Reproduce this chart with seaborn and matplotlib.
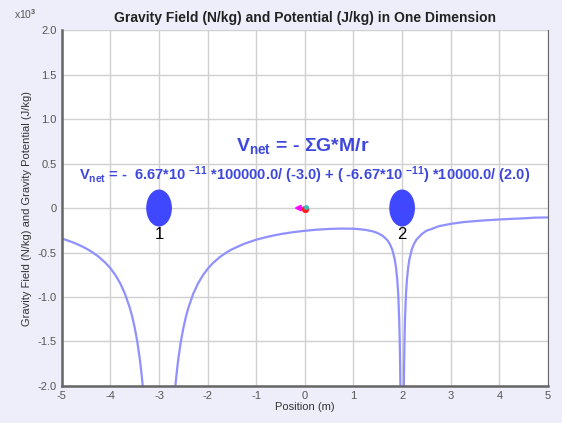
import numpy as np
import pandas as pd
import seaborn as sns
import matplotlib.pyplot as plt
from matplotlib.patches import Ellipse

# potential curve (x10^3), three pieces split by the two masses
x_left = [-5.0, -4.9, -4.75, -4.6, -4.5, -4.4, -4.25, -4.1, -4.0, -3.9, -3.8, -3.7,
          -3.6, -3.55, -3.5, -3.45, -3.4, -3.375, -3.35, -3.33]
v_left = [-0.343, -0.361, -0.391, -0.427, -0.455, -0.487, -0.544, -0.617, -0.678, -0.752,
          -0.845, -0.965, -1.124, -1.225, -1.346, -1.494, -1.680, -1.791, -1.918, -2.03]
x_mid = [-2.67, -2.65, -2.625, -2.6, -2.55, -2.5, -2.45, -2.4, -2.3, -2.2, -2.1, -2.0,
         -1.9, -1.75, -1.6, -1.5, -1.25, -1.0, -0.75, -0.5, -0.25, 0.0, 0.25, 0.5,
         0.75, 1.0, 1.1, 1.25, 1.4, 1.5, 1.6, 1.7, 1.75, 1.8, 1.85, 1.875, 1.9, 1.92,
         1.94, 1.95, 1.96, 1.965]
v_mid = [-2.035, -1.92, -1.793, -1.682, -1.497, -1.349, -1.228, -1.127, -0.968, -0.850,
         -0.757, -0.684, -0.623, -0.551, -0.495, -0.464, -0.402, -0.356, -0.321, -0.293,
         -0.272, -0.256, -0.243, -0.235, -0.231, -0.233, -0.237, -0.246, -0.263, -0.282,
         -0.312, -0.364, -0.407, -0.472, -0.582, -0.670, -0.803, -0.969, -1.247, -1.469,
         -1.80, -2.04]
x_right = [2.035, 2.04, 2.05, 2.06, 2.08, 2.1, 2.125, 2.15, 2.2, 2.25, 2.3, 2.4, 2.5,
           2.6, 2.75, 3.0, 3.25, 3.5, 3.75, 4.0, 4.25, 4.5, 4.75, 5.0]
v_right = [-2.04, -1.80, -1.467, -1.244, -0.966, -0.799, -0.665, -0.576, -0.464, -0.397,
           -0.352, -0.295, -0.255, -0.237, -0.205, -0.178, -0.159, -0.147, -0.137, -0.129,
           -0.122, -0.116, -0.108, -0.106]

mass_x = [-3.0, 2.0]
mass_labels = ['1', '2']
x_ticks = [-5, -4, -3, -2, -1, 0, 1, 2, 3, 4, 5]
y_ticks = [-2.0, -1.5, -1.0, -0.5, 0, 0.5, 1.0, 1.5, 2.0]
y_labels = ['-2.0', '-1.5', '-1.0', '-0.5', '0', '0.5', '1.0', '1.5', '2.0']

df = pd.concat([
    pd.DataFrame({'x': x_left, 'v': v_left, 'seg': 'a'}),
    pd.DataFrame({'x': x_mid, 'v': v_mid, 'seg': 'b'}),
    pd.DataFrame({'x': x_right, 'v': v_right, 'seg': 'c'}),
])

sns.set_style('whitegrid')
plt.rcParams['font.family'] = ['Liberation Sans', 'DejaVu Sans']
plt.rcParams['axes.unicode_minus'] = False
plt.rcParams['mathtext.fontset'] = 'custom'
plt.rcParams['mathtext.rm'] = 'Liberation Sans:bold'
plt.rcParams['mathtext.bf'] = 'Liberation Sans:bold'
plt.rcParams['mathtext.it'] = 'Liberation Sans:bold'

bg = '#eeeefa'
fig = plt.figure(figsize=(5.62, 4.23), dpi=100, facecolor=bg)
ax = fig.add_axes([0.110, 0.0875, 0.865, 0.8415])
ax.set_facecolor('white')

for seg, d in df.groupby('seg'):
    sns.lineplot(data=d, x='x', y='v', ax=ax, color='#9090ff', linewidth=1.6,
                 sort=False, legend=False)

ax.set_xlim(-5, 5)
ax.set_ylim(-2.0, 2.0)
ax.set_xticks(x_ticks)
ax.set_yticks(y_ticks)
ax.set_yticklabels(y_labels)
ax.tick_params(labelsize=8, colors='#555555', length=4, direction='in')
ax.grid(True, color='#d0d0d0', linewidth=1)
for side in ['left', 'bottom']:
    ax.spines[side].set_color('#666666')
    ax.spines[side].set_linewidth(1.8)
ax.spines['right'].set_color('#666666')
ax.spines['top'].set_visible(False)

# masses
for mx, lab in zip(mass_x, mass_labels):
    ax.add_patch(Ellipse((mx, 0), 0.5, 0.4, color='#3f48ff', zorder=5))
    ax.text(mx, -0.3, lab, ha='center', va='center', fontsize=12, color='black', zorder=6)

# test mass and arrow at origin
ax.annotate('', xy=(-0.28, 0), xytext=(0, 0),
            arrowprops=dict(arrowstyle='-|>', color='#ff00ff', lw=1.5, mutation_scale=8), zorder=6)
ax.scatter([0.0], [-0.01], s=18, color='#ff2020', zorder=7)
ax.scatter([0.03], [0.01], s=6, color='#30c0c0', zorder=8)

blue = '#3f48dd'
ax.text(-0.05, 0.7, r'$V_{net}$ = - ΣG*M/r', ha='center', va='center',
        fontsize=14, color=blue, fontweight='bold')
ax.text(0.0, 0.37,
        r'$V_{net}$ = -  6.67*10 $^{-11}$ *100000.0/ (-3.0) + ( -6.67*10 $^{-11}$) *10000.0/ (2.0)',
        ha='center', va='center', fontsize=10.5, color=blue, fontweight='bold')

ax.set_title('Gravity Field (N/kg) and Potential (J/kg) in One Dimension',
             fontsize=10, fontweight='bold', color='#222222', pad=6)
ax.set_xlabel('Position (m)', fontsize=8, color='#333333', labelpad=1)
ax.set_ylabel('Gravity Field (N/kg) and Gravity Potential (J/kg)', fontsize=8,
              color='#333333', labelpad=4)
fig.text(0.025, 0.955, r'x10$^{3}$', fontsize=7.5, color='#555555')

fig.savefig('out.png', dpi=100, facecolor=bg)
